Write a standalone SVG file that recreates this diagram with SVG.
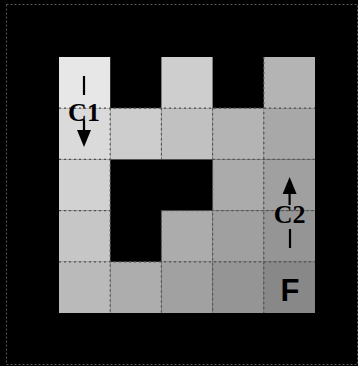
<svg xmlns="http://www.w3.org/2000/svg" width="358" height="366" viewBox="0 0 358 366">
<style>
.dot{stroke:#505050;stroke-width:1.2;stroke-dasharray:2,3;fill:none}
.lbl{font-family:"Liberation Serif",serif;font-weight:bold;font-size:26px;fill:#000;text-anchor:middle}
.f{font-family:"Liberation Sans",Arial,sans-serif;font-weight:bold;font-size:31px;fill:#000;text-anchor:middle}
.bar{stroke:#000;stroke-width:2.2}
</style>
<rect width="358" height="366" fill="#000"/>
<rect x="6.5" y="4.5" width="351" height="360" fill="none" stroke="#555" stroke-dasharray="2,2"/>
<g id="cells">
<rect x="59" y="57" width="51.2" height="51.2" fill="#e7e7e7"/>
<rect x="161.4" y="57" width="51.2" height="51.2" fill="#cecece"/>
<rect x="263.8" y="57" width="51.2" height="51.2" fill="#b4b4b4"/>
<rect x="59" y="108.2" width="51.2" height="51.2" fill="#dadada"/>
<rect x="110.2" y="108.2" width="51.2" height="51.2" fill="#cdcdcd"/>
<rect x="161.4" y="108.2" width="51.2" height="51.2" fill="#c1c1c1"/>
<rect x="212.6" y="108.2" width="51.2" height="51.2" fill="#b4b4b4"/>
<rect x="263.8" y="108.2" width="51.2" height="51.2" fill="#a8a8a8"/>
<rect x="59" y="159.4" width="51.2" height="51.2" fill="#d2d2d2"/>
<rect x="212.6" y="159.4" width="51.2" height="51.2" fill="#ababab"/>
<rect x="263.8" y="159.4" width="51.2" height="51.2" fill="#a0a0a0"/>
<rect x="59" y="210.6" width="51.2" height="51.2" fill="#c6c6c6"/>
<rect x="161.4" y="210.6" width="51.2" height="51.2" fill="#acacac"/>
<rect x="212.6" y="210.6" width="51.2" height="51.2" fill="#a0a0a0"/>
<rect x="263.8" y="210.6" width="51.2" height="51.2" fill="#959595"/>
<rect x="59" y="261.8" width="51.2" height="51.2" fill="#bababa"/>
<rect x="110.2" y="261.8" width="51.2" height="51.2" fill="#adadad"/>
<rect x="161.4" y="261.8" width="51.2" height="51.2" fill="#a1a1a1"/>
<rect x="212.6" y="261.8" width="51.2" height="51.2" fill="#959595"/>
<rect x="263.8" y="261.8" width="51.2" height="51.2" fill="#888888"/>
</g>
<g id="gridlines">
<path class="dot" d="M59 108.2H315M59 159.4H110.2M212.6 159.4H315M59 210.6H110.2M161.4 210.6H315M59 261.8H315"/>
<path class="dot" d="M110.2 108.2V159.4M110.2 159.4V313M161.4 108.2V159.4M161.4 210.6V313M212.6 108.2V313M263.8 57V313"/>
</g>
<g id="C1">
<line class="bar" x1="84" y1="76" x2="84" y2="95"/>
<text class="lbl" x="84" y="121">C1</text>
<line class="bar" x1="84" y1="120" x2="84" y2="131"/>
<polygon points="77,130 91,130 84,147" fill="#000"/>
</g>
<g id="C2">
<polygon points="282.6,194 296.6,194 289.6,177" fill="#000"/>
<line class="bar" x1="289.6" y1="193" x2="289.6" y2="205"/>
<text class="lbl" x="289.6" y="223">C2</text>
<line class="bar" x1="290" y1="229" x2="290" y2="248"/>
</g>
<g id="F">
<text class="f" x="290" y="301">F</text>
</g>
</svg>
